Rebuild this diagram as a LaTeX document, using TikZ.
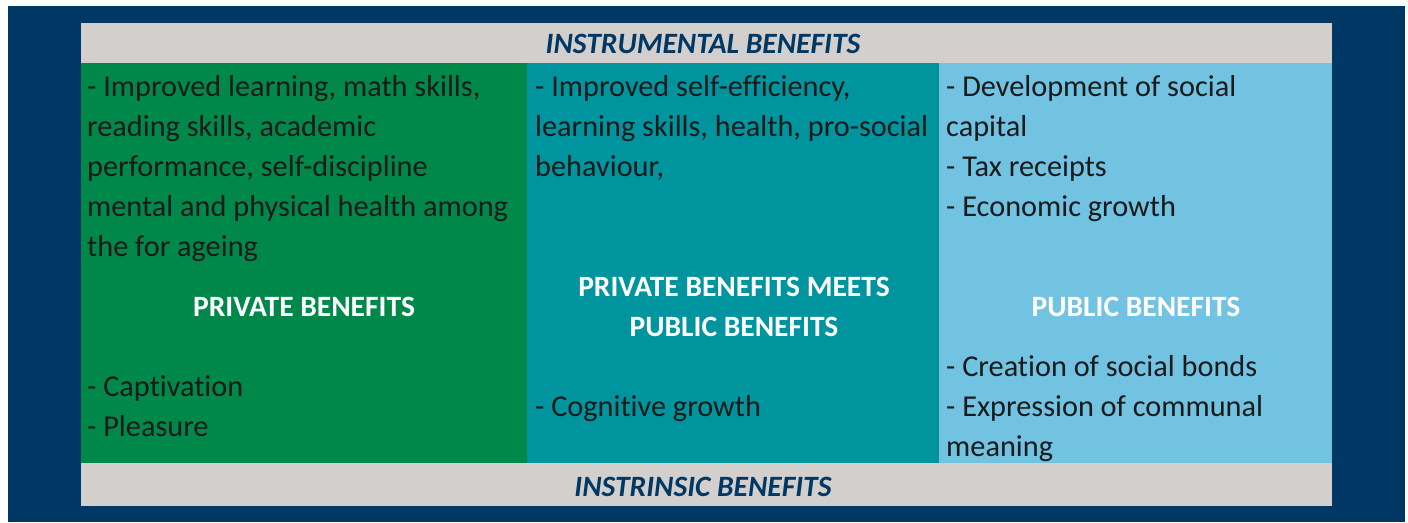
\documentclass[tikz,border=0pt]{standalone}
\usepackage{fontspec}
\setmainfont{Carlito}[RawFeature=-liga]
\definecolor{navybg}{RGB}{0,56,101}
\definecolor{bandgray}{RGB}{211,207,204}
\definecolor{colgreen}{RGB}{0,136,74}
\definecolor{colteal}{RGB}{0,148,158}
\definecolor{collight}{RGB}{114,194,226}
\definecolor{bodytext}{RGB}{26,26,26}
\begin{document}
\begin{tikzpicture}[x=1pt,y=-1pt,
  body/.style={anchor=base west,inner sep=0pt,text=bodytext,font=\fontsize{30.3}{36}\selectfont},
  title/.style={anchor=base,inner sep=0pt,text=white,font=\fontsize{29.5}{36}\selectfont\bfseries},
  band/.style={anchor=base,inner sep=0pt,text=navybg,font=\fontsize{29.5}{36}\selectfont\bfseries\itshape}]
\useasboundingbox (0,0) rectangle (1408,522);
\fill[white] (0,0) rectangle (1408,522);
\fill[navybg] (8,6) rectangle (1405,522);
\fill[bandgray] (81,23) rectangle (1332,63);
\fill[colgreen] (81,63) rectangle (527,463);
\fill[colteal] (527,63) rectangle (939,463);
\fill[collight] (939,63) rectangle (1332,463);
\fill[bandgray] (81,463) rectangle (1332,506);
% bands
\node[band] (top) at (703,53) {INSTRUMENTAL BENEFITS};
\node[band] (bot) at (703,496) {INSTRINSIC BENEFITS};
% column 1
\node[body] (a1) at (87,96) {- Improved learning, math skills,};
\node[body] (a2) at (87,136) {reading skills, academic};
\node[body] (a3) at (87,176) {performance, self-discipline};
\node[body] (a4) at (87,216) {mental and physical health among};
\node[body] (a5) at (87,256) {the for ageing};
\node[title] (pt) at (304,316) {PRIVATE BENEFITS};
\node[body] (a6) at (87,396) {- Captivation};
\node[body] (a7) at (87,436) {- Pleasure};
% column 2
\node[body] (b1) at (535,96) {- Improved self-efficiency,};
\node[body] (b2) at (535,136) {learning skills, health, pro-social};
\node[body] (b3) at (535,176) {behaviour,};
\node[title] (mt1) at (734,296) {PRIVATE BENEFITS MEETS};
\node[title] (mt2) at (734,336) {PUBLIC BENEFITS};
\node[body] (b4) at (535,416) {- Cognitive growth};
% column 3
\node[body] (c1) at (946,96) {- Development of social};
\node[body] (c2) at (946,136) {capital};
\node[body] (c3) at (946,176) {- Tax receipts};
\node[body] (c4) at (946,216) {- Economic growth};
\node[title] (ut) at (1136,316) {PUBLIC BENEFITS};
\node[body] (c5) at (946,376) {- Creation of social bonds};
\node[body] (c6) at (946,416) {- Expression of communal};
\node[body] (c7) at (946,456) {meaning};
\end{tikzpicture}
\end{document}
